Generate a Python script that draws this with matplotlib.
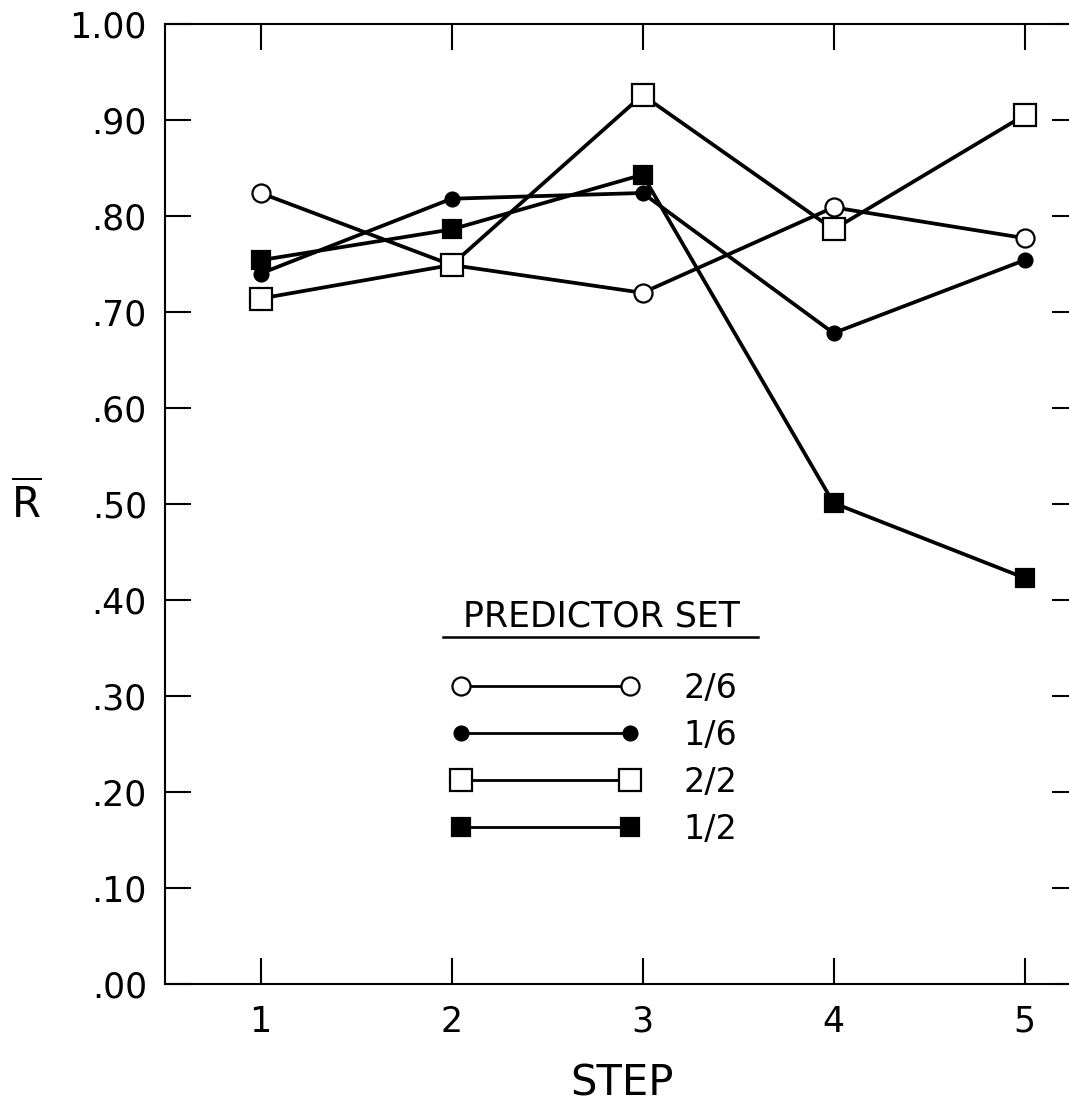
import matplotlib

matplotlib.use("Agg")
import matplotlib.pyplot as plt
from matplotlib.lines import Line2D

# values
steps = [1, 2, 3, 4, 5]
r_26 = [0.824, 0.749, 0.720, 0.809, 0.777]
r_16 = [0.740, 0.818, 0.824, 0.678, 0.754]
r_22 = [0.714, 0.749, 0.926, 0.786, 0.905]
r_12 = [0.754, 0.786, 0.843, 0.501, 0.423]
set_labels = ["2/6", "1/6", "2/2", "1/2"]
y_ticks = [0.0, 0.1, 0.2, 0.3, 0.4, 0.5, 0.6, 0.7, 0.8, 0.9, 1.0]
y_ticklabels = [".00", ".10", ".20", ".30", ".40", ".50", ".60", ".70", ".80", ".90", "1.00"]

plt.rcParams["font.family"] = ["DejaVu Sans"]
plt.rcParams["mathtext.fontset"] = "dejavusans"

fig = plt.figure(figsize=(10.69, 11.07), dpi=100)
# right spine sits just past the image edge in the original
ax = fig.add_axes([165 / 1069, 123 / 1107, 913 / 1069, 960 / 1107])

styles = [
    dict(marker="o", mfc="white", ms=13),
    dict(marker="o", mfc="black", ms=10),
    dict(marker="s", mfc="white", ms=16),
    dict(marker="s", mfc="black", ms=13),
]
series = [r_26, r_16, r_22, r_12]
for vals, st in zip(series, styles):
    ax.plot(steps, vals, color="black", lw=2.7, mec="black", mew=1.6, **st)

ax.set_xlim(0.5, 5.28)
ax.set_ylim(0, 1.0)
ax.set_xticks(steps)
ax.set_xticklabels([str(s) for s in steps])
ax.set_yticks(y_ticks)
ax.set_yticklabels(y_ticklabels)
ax.tick_params(axis="both", direction="in", length=19, width=1.5, labelsize=25,
               top=True, right=True)
ax.tick_params(axis="x", pad=15)
ax.tick_params(axis="y", pad=13)
for sp in ax.spines.values():
    sp.set_linewidth(1.5)

ax.set_xlabel("STEP", fontsize=30, labelpad=17)
ax.set_ylabel(r"$\overline{\mathrm{R}}$", fontsize=30, rotation=0, labelpad=31, va="center")

# legend: marker ---- marker  label
handles = [Line2D([], [], color="black", lw=2.0, mec="black", mew=1.6, **st) for st in styles]
leg = ax.legend(handles, set_labels, loc="upper left", bbox_to_anchor=(0.313, 0.325),
                frameon=False, numpoints=2, handlelength=5.67, handletextpad=1.3,
                fontsize=24, labelspacing=0.42, borderpad=0, borderaxespad=0)

ax.text(0.4775, 0.383, "PREDICTOR SET", transform=ax.transAxes, fontsize=25,
        ha="center", va="center")
ax.plot([0.304, 0.649], [0.361, 0.361], transform=ax.transAxes, color="black",
        lw=1.8, clip_on=False)

fig.savefig("out.png", dpi=100)
